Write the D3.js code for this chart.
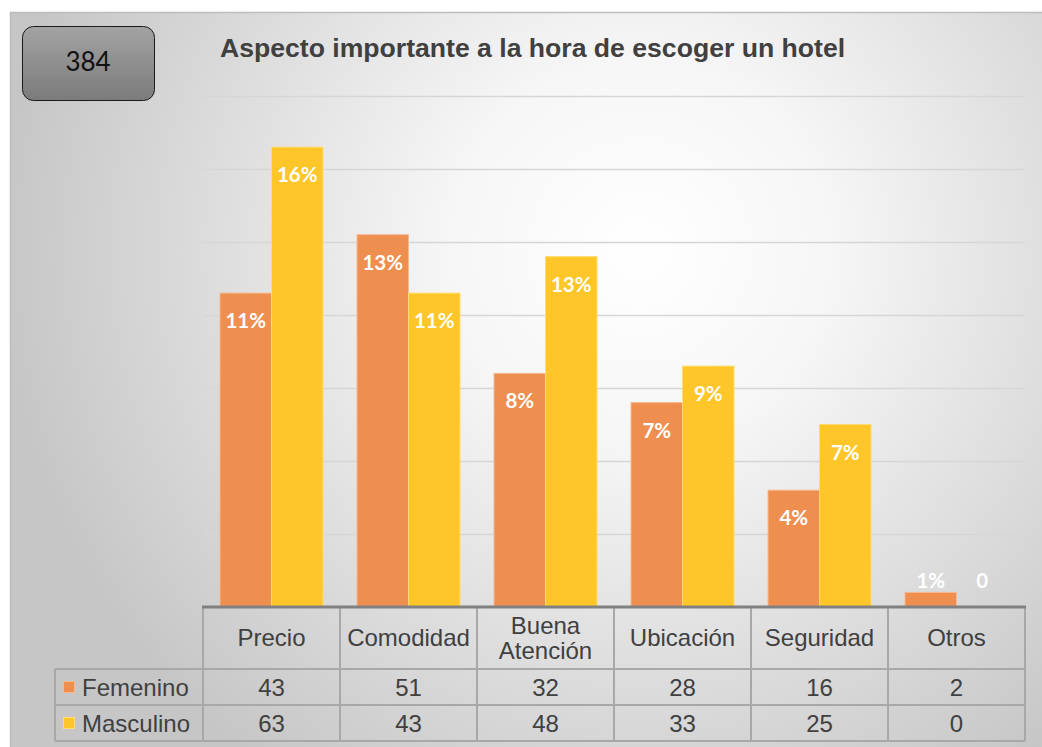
<!DOCTYPE html>
<html>
<head>
<meta charset="utf-8">
<script src="https://cdn.jsdelivr.net/npm/d3@7"></script>
<style>
  body { margin: 0; background: #fff; }
  svg { display: block; }
</style>
</head>
<body>
<div id="chart"></div>
<script>
// data
const categories = ["Precio", "Comodidad", "Buena Atención", "Ubicación", "Seguridad", "Otros"]
const seriesNames = ["Femenino", "Masculino"]
const femenino = [43, 51, 32, 28, 16, 2]
const masculino = [63, 43, 48, 33, 25, 0]
const femeninoLabels = ["11%", "13%", "8%", "7%", "4%", "1%"]
const masculinoLabels = ["16%", "11%", "13%", "9%", "7%", "0"]
const yTicks = [10, 20, 30, 40, 50, 60, 70]
const total = "384"
const title = "Aspecto importante a la hora de escoger un hotel"

const colors = { Femenino: "#ee8e4f", Masculino: "#fec628" }
const strokes = { Femenino: "#f6b98f", Masculino: "#ffdc73" }

const dimensions = {
    width: 1042,
    height: 747,
    plotLeft: 203,
    plotRight: 1025,
    plotTop: 96,
    baseline: 607,
    headerBottom: 669,
    row1Bottom: 705,
    row2Bottom: 741,
    legendLeft: 55,
}

const rows = seriesNames.map((name, i) => ({
    name,
    values: i === 0 ? femenino : masculino,
    labels: i === 0 ? femeninoLabels : masculinoLabels,
}))

const wrapper = d3.select("#chart")
    .append("svg")
    .attr("width", dimensions.width)
    .attr("height", dimensions.height)

// background
const defs = wrapper.append("defs")
const grad = defs.append("radialGradient")
    .attr("id", "bg")
    .attr("gradientUnits", "userSpaceOnUse")
    .attr("cx", 640).attr("cy", 250).attr("r", 640)
grad.append("stop").attr("offset", 0).attr("stop-color", "#ffffff")
grad.append("stop").attr("offset", 0.3).attr("stop-color", "#f6f6f6")
grad.append("stop").attr("offset", 1).attr("stop-color", "#c6c6c6")

const boxGrad = defs.append("linearGradient")
    .attr("id", "boxGrad")
    .attr("x1", 0).attr("y1", 0).attr("x2", 0).attr("y2", 1)
boxGrad.append("stop").attr("offset", 0).attr("stop-color", "#a3a3a3")
boxGrad.append("stop").attr("offset", 1).attr("stop-color", "#7b7b7b")

wrapper.append("rect")
    .attr("x", 10).attr("y", 12)
    .attr("width", dimensions.width - 10)
    .attr("height", dimensions.height - 12)
    .attr("fill", "url(#bg)")

wrapper.append("path")
    .attr("d", `M10.5,${dimensions.height} V12.5 H${dimensions.width}`)
    .attr("fill", "none")
    .attr("stroke", "#bdbdbd")
    .attr("stroke-width", 1.5)

// 384 box
wrapper.append("rect")
    .attr("x", 22.5).attr("y", 26.5)
    .attr("width", 132).attr("height", 74)
    .attr("rx", 11)
    .attr("fill", "url(#boxGrad)")
    .attr("stroke", "#1a1a1a")
    .attr("stroke-width", 1)

wrapper.append("text")
    .attr("x", 88).attr("y", 71)
    .attr("text-anchor", "middle")
    .style("font-family", "Lato, 'Open Sans', sans-serif")
    .style("font-size", "26px")
    .attr("fill", "#111")
    .text(total)

wrapper.append("text")
    .attr("x", 220).attr("y", 57)
    .style("font-family", "'Liberation Sans', Arial, sans-serif")
    .style("font-weight", "bold")
    .style("font-size", "26.6px")
    .attr("fill", "#404040")
    .text(title)

// scales
const xScale = d3.scaleBand()
    .domain(categories)
    .range([dimensions.plotLeft, dimensions.plotRight])

const seriesScale = d3.scaleBand()
    .domain(seriesNames)
    .range([17, xScale.bandwidth() - 17])

const yScale = d3.scaleLinear()
    .domain([0, 70])
    .range([dimensions.baseline, dimensions.plotTop])

// gridlines
wrapper.append("g")
    .selectAll("line")
    .data(yTicks)
    .join("line")
    .attr("x1", dimensions.plotLeft)
    .attr("x2", dimensions.plotRight)
    .attr("y1", d => Math.round(yScale(d)) + 0.5)
    .attr("y2", d => Math.round(yScale(d)) + 0.5)
    .attr("stroke", "#d6d6d6")
    .attr("stroke-width", 1.5)

// bars
const groups = wrapper.append("g")
    .selectAll("g")
    .data(rows)
    .join("g")

groups.selectAll("rect")
    .data(r => r.values.map((v, i) => ({ name: r.name, cat: categories[i], v })))
    .join("rect")
    .attr("x", d => xScale(d.cat) + seriesScale(d.name))
    .attr("y", d => yScale(d.v))
    .attr("width", seriesScale.bandwidth())
    .attr("height", d => yScale(0) - yScale(d.v))
    .attr("fill", d => colors[d.name])
    .attr("stroke", d => d.v > 0 ? strokes[d.name] : "none")
    .attr("stroke-width", 1)

// data labels
groups.selectAll("text")
    .data(r => r.values.map((v, i) => ({ name: r.name, cat: categories[i], v, label: r.labels[i] })))
    .join("text")
    .attr("x", d => xScale(d.cat) + seriesScale(d.name) + seriesScale.bandwidth() / 2)
    .attr("y", d => {
        const h = yScale(0) - yScale(d.v)
        return h > 40 ? yScale(d.v) + 35 : yScale(0) - 19
    })
    .attr("text-anchor", "middle")
    .style("font-family", "Lato, 'Open Sans', sans-serif")
    .style("font-weight", "bold")
    .style("font-size", "20.5px")
    .attr("fill", "#ffffff")
    .text(d => d.label)

// data table
const table = wrapper.append("g")
const gridColor = "#a8a8a8"

const hLines = [
    { y: dimensions.headerBottom, x1: dimensions.legendLeft },
    { y: dimensions.row1Bottom, x1: dimensions.legendLeft },
    { y: dimensions.row2Bottom, x1: dimensions.legendLeft },
]
table.selectAll(".hline")
    .data(hLines)
    .join("line")
    .attr("x1", d => d.x1)
    .attr("x2", dimensions.plotRight)
    .attr("y1", d => d.y)
    .attr("y2", d => d.y)
    .attr("stroke", gridColor)
    .attr("stroke-width", 2)

const colEdges = categories.map(c => xScale(c)).concat([dimensions.plotRight])
table.selectAll(".vline")
    .data(colEdges)
    .join("line")
    .attr("x1", d => d)
    .attr("x2", d => d)
    .attr("y1", dimensions.baseline)
    .attr("y2", dimensions.row2Bottom)
    .attr("stroke", gridColor)
    .attr("stroke-width", 2)

table.append("line")
    .attr("x1", dimensions.legendLeft)
    .attr("x2", dimensions.legendLeft)
    .attr("y1", dimensions.headerBottom)
    .attr("y2", dimensions.row2Bottom)
    .attr("stroke", gridColor)
    .attr("stroke-width", 2)

// baseline axis
wrapper.append("line")
    .attr("x1", dimensions.plotLeft - 1)
    .attr("x2", dimensions.plotRight + 1)
    .attr("y1", dimensions.baseline)
    .attr("y2", dimensions.baseline)
    .attr("stroke", "#808080")
    .attr("stroke-width", 3)

const tableFont = "'Liberation Sans', Arial, sans-serif"
const headerMid = (dimensions.baseline + dimensions.headerBottom) / 2

table.selectAll(".head")
    .data(categories)
    .join("text")
    .attr("x", d => xScale(d) + xScale.bandwidth() / 2)
    .attr("y", headerMid)
    .attr("text-anchor", "middle")
    .style("font-family", tableFont)
    .style("font-size", "24px")
    .attr("fill", "#404040")
    .each(function (d) {
        const words = d === "Buena Atención" ? ["Buena", "Atención"] : [d]
        const t = d3.select(this)
        words.forEach((w, i) => {
            t.append("tspan")
                .attr("x", xScale(d) + xScale.bandwidth() / 2)
                .attr("y", headerMid + 8 + (i - (words.length - 1) / 2) * 25)
                .text(w)
        })
    })

const rowTops = [dimensions.headerBottom, dimensions.row1Bottom]
rows.forEach((r, ri) => {
    const yMid = (rowTops[ri] + (ri === 0 ? dimensions.row1Bottom : dimensions.row2Bottom)) / 2
    table.selectAll(".val" + ri)
        .data(r.values)
        .join("text")
        .attr("x", (d, i) => xScale(categories[i]) + xScale.bandwidth() / 2)
        .attr("y", yMid + 8.5)
        .attr("text-anchor", "middle")
        .style("font-family", tableFont)
        .style("font-size", "24px")
        .attr("fill", "#404040")
        .text(d => d)

    table.append("rect")
        .attr("x", 63.5).attr("y", yMid - 5.5)
        .attr("width", 11).attr("height", 11)
        .attr("fill", colors[r.name])
        .attr("stroke", strokes[r.name])

    table.append("text")
        .attr("x", 82)
        .attr("y", yMid + 8.5)
        .style("font-family", tableFont)
        .style("font-size", "24px")
        .attr("fill", "#404040")
        .text(r.name)
})
</script>
</body>
</html>
